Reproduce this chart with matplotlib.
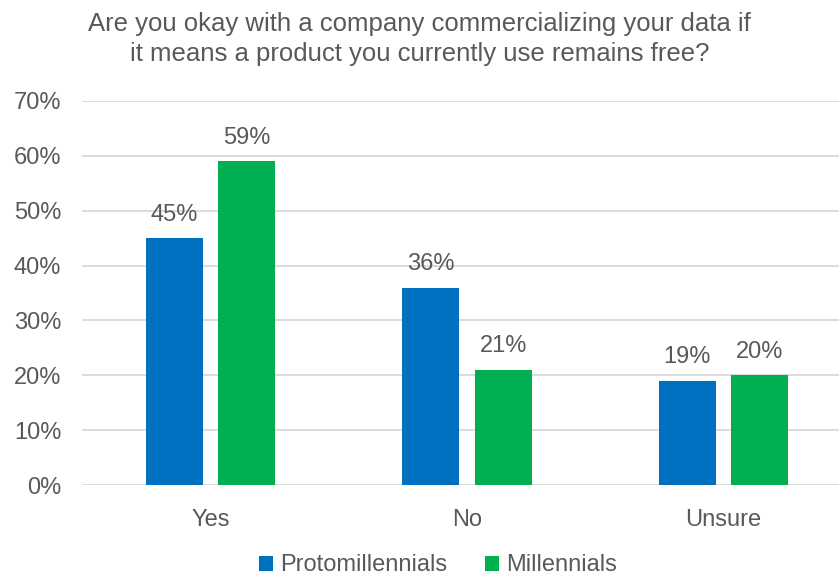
import numpy as np
import matplotlib
matplotlib.use("Agg")
import matplotlib.pyplot as plt

categories = ["Yes", "No", "Unsure"]
protomillennials = [45, 36, 19]
millennials = [59, 21, 20]
yticks = [0, 10, 20, 30, 40, 50, 60, 70]

BLUE = "#0070C0"
GREEN = "#00B050"
GREY = "#595959"

plt.rcParams["font.family"] = ["Liberation Sans", "DejaVu Sans"]

fig = plt.figure(figsize=(8.39, 5.77), dpi=100)
ax = fig.add_axes([0.0977, 0.1594, 0.9023, 0.6656])

x = np.arange(len(categories))
w = 0.222
off = 0.141
b1 = ax.bar(x - off, protomillennials, w, color=BLUE, label="Protomillennials", zorder=3)
b2 = ax.bar(x + off, millennials, w, color=GREEN, label="Millennials", zorder=3)

for bars, vals in ((b1, protomillennials), (b2, millennials)):
    for r, v in zip(bars, vals):
        ax.annotate(f"{v}%", (r.get_x() + r.get_width() / 2, v), xytext=(0, 9),
                    textcoords="offset points", ha="center", va="bottom",
                    fontsize=17, color=GREY)

ax.set_xlim(-0.5, 2.45)
ax.set_ylim(0, 70)
ax.set_yticks(yticks)
ax.set_yticklabels([f"{t}%" for t in yticks])
ax.set_xticks(x)
ax.set_xticklabels(categories)
ax.tick_params(axis="both", length=0, labelsize=17, colors=GREY)
ax.tick_params(axis="y", pad=15)
ax.tick_params(axis="x", pad=17)
ax.yaxis.grid(True, color="#D9D9D9", linewidth=1.3, zorder=0)
for s in ax.spines.values():
    s.set_visible(False)

fig.text(0.5, 0.933, "Are you okay with a company commercializing your data if\n"
         "it means a product you currently use remains free?",
         ha="center", va="center", fontsize=18.5, color=GREY, linespacing=1.33)

fig.legend(loc="center", bbox_to_anchor=(0.522, 0.02), ncol=2, frameon=False,
           fontsize=17, labelcolor=GREY, handlelength=0.6, handleheight=0.6,
           handletextpad=0.3, columnspacing=1.6, borderpad=0)

fig.savefig("out.png", dpi=100)
